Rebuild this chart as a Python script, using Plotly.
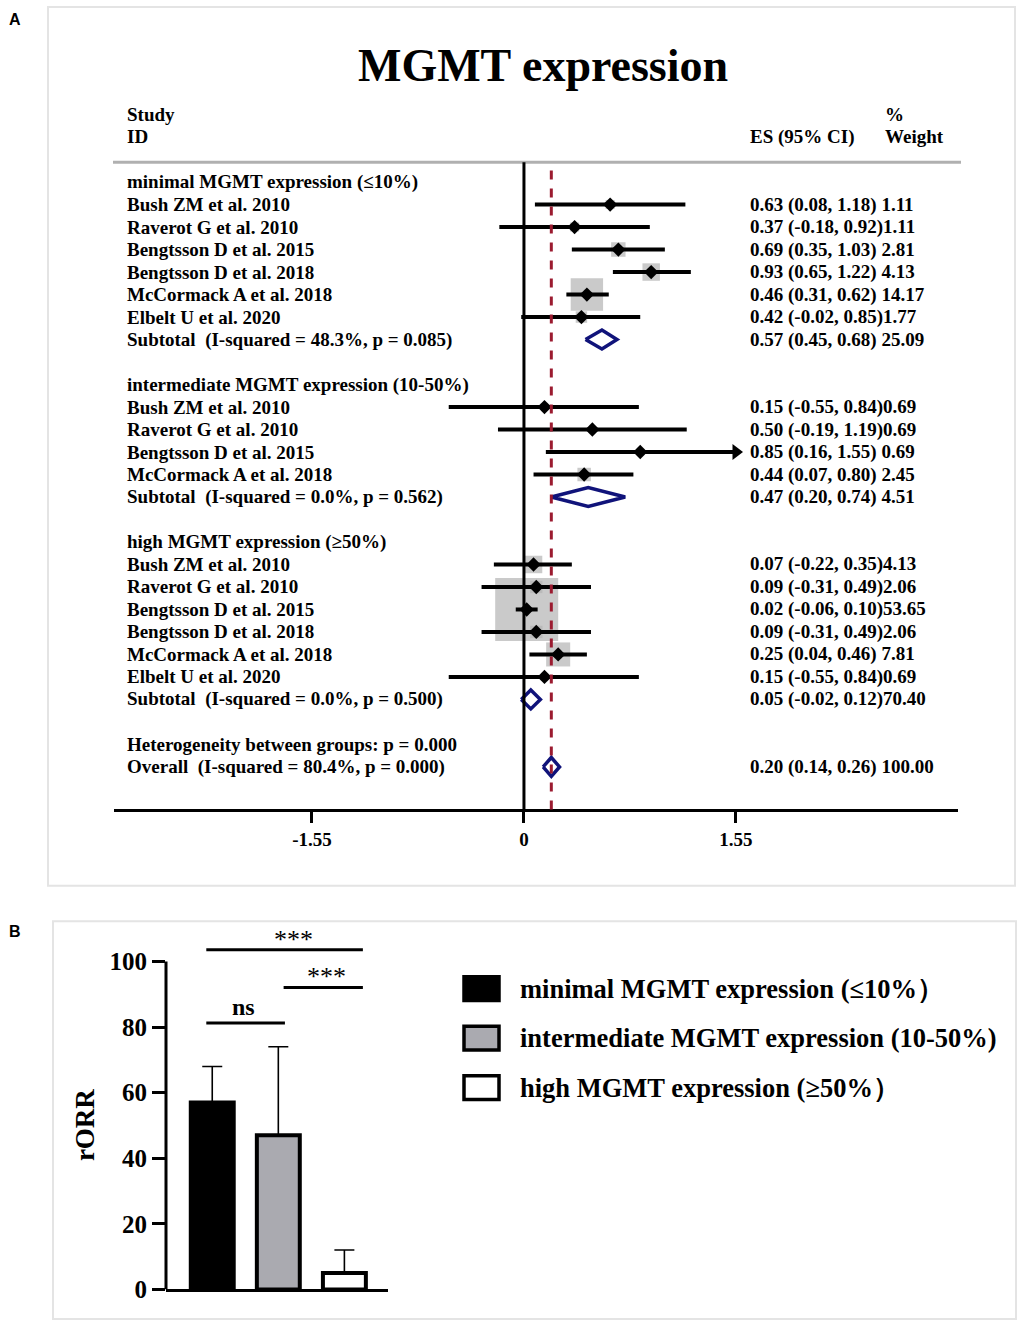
import plotly.graph_objects as go

W, H = 1024, 1339
def px(x): return x / W
def py(y): return 1 - y / H

FONT = "Liberation Serif"
FS = 19

# ---------------- Panel A data ----------------
group_titles = ["minimal MGMT expression (≤10%)",
                "intermediate MGMT expression (10-50%)",
                "high MGMT expression (≥50%)"]
min_studies = ["Bush ZM et al. 2010", "Raverot G et al. 2010", "Bengtsson D et al. 2015",
               "Bengtsson D et al. 2018", "McCormack A et al. 2018", "Elbelt U et al. 2020"]
min_es = [0.63, 0.37, 0.69, 0.93, 0.46, 0.42]
min_lo = [0.08, -0.18, 0.35, 0.65, 0.31, -0.02]
min_hi = [1.18, 0.92, 1.03, 1.22, 0.62, 0.85]
min_w = [1.11, 1.11, 2.81, 4.13, 14.17, 1.77]

int_studies = ["Bush ZM et al. 2010", "Raverot G et al. 2010", "Bengtsson D et al. 2015",
               "McCormack A et al. 2018"]
int_es = [0.15, 0.50, 0.85, 0.44]
int_lo = [-0.55, -0.19, 0.16, 0.07]
int_hi = [0.84, 1.19, 1.55, 0.80]
int_w = [0.69, 0.69, 0.69, 2.45]

high_studies = ["Bush ZM et al. 2010", "Raverot G et al. 2010", "Bengtsson D et al. 2015",
                "Bengtsson D et al. 2018", "McCormack A et al. 2018", "Elbelt U et al. 2020"]
high_es = [0.07, 0.09, 0.02, 0.09, 0.25, 0.15]
high_lo = [-0.22, -0.31, -0.06, -0.31, 0.04, -0.55]
high_hi = [0.35, 0.49, 0.10, 0.49, 0.46, 0.84]
high_w = [4.13, 2.06, 53.65, 2.06, 7.81, 0.69]

sub_es = [0.57, 0.47, 0.05]
sub_lo = [0.45, 0.20, -0.02]
sub_hi = [0.68, 0.74, 0.12]
sub_w = [25.09, 4.51, 70.40]
sub_i2 = ["48.3%", "0.0%", "0.0%"]
sub_p = ["0.085", "0.562", "0.500"]

overall_es, overall_lo, overall_hi, overall_w = 0.20, 0.14, 0.26, 100.00
overall_i2, overall_p = "80.4%", "0.000"
het_p = "0.000"

x_ticks = [-1.55, 0, 1.55]
x_ticktext = ["-1.55", "0", "1.55"]

# ---------------- Panel B data ----------------
bar_cats = ["minimal MGMT expression (≤10%）",
            "intermediate MGMT expression (10-50%)",
            "high MGMT expression (≥50%）"]
bar_vals = [57, 47, 5]
bar_err = [11, 27, 7]
bar_colors = ["#000000", "#aaaab0", "#ffffff"]
y_ticks_b = [0, 20, 40, 60, 80, 100]
sig_labels = ["***", "***", "ns"]
sig_x0 = [-0.09, 1.08, -0.09]
sig_x1 = [2.28, 2.28, 1.10]
sig_y = [103.6, 92.1, 81.3]
sig_text_x = [1.23, 1.73, 0.48]

# ---------------- Build forest rows ----------------
groups = [
    (min_studies, min_es, min_lo, min_hi, min_w),
    (int_studies, int_es, int_lo, int_hi, int_w),
    (high_studies, high_es, high_lo, high_hi, high_w),
]

def es_text(e, l, h, w):
    s = f"{e:.2f} ({l:.2f}, {h:.2f})"
    s = s.ljust(18)
    return (s + f"{w:.2f}").replace(" ", "\u00a0")

label_rows, label_texts = [], []
st_rows, st_es, st_lo, st_hi, st_w = [], [], [], [], []
rt_rows, rt_texts = [], []
sub_rows = []
row = 0
for gi, (names, es, lo, hi, w) in enumerate(groups):
    label_rows.append(row); label_texts.append(group_titles[gi]); row += 1
    for n, e, l, h, ww in zip(names, es, lo, hi, w):
        label_rows.append(row); label_texts.append(n)
        st_rows.append(row); st_es.append(e); st_lo.append(l); st_hi.append(h); st_w.append(ww)
        rt_rows.append(row); rt_texts.append(es_text(e, l, h, ww))
        row += 1
    label_rows.append(row)
    label_texts.append(f"Subtotal\u00a0 (I-squared = {sub_i2[gi]}, p = {sub_p[gi]})")
    rt_rows.append(row); rt_texts.append(es_text(sub_es[gi], sub_lo[gi], sub_hi[gi], sub_w[gi]))
    sub_rows.append(row)
    row += 2
label_rows.append(row); label_texts.append(f"Heterogeneity between groups: p = {het_p}"); row += 1
overall_row = row
label_rows.append(row); label_texts.append(f"Overall\u00a0 (I-squared = {overall_i2}, p = {overall_p})")
rt_rows.append(row); rt_texts.append(es_text(overall_es, overall_lo, overall_hi, overall_w))

fig = go.Figure()

# grey weight boxes
fig.add_trace(go.Scatter(
    x=st_es, y=st_rows, mode="markers",
    marker=dict(symbol="square", size=[8.6 * (w ** 0.5) for w in st_w], color="#b4b4b4", line=dict(width=0)),
    xaxis="x", yaxis="y", showlegend=False, hoverinfo="skip"))

# CI lines
cx, cy = [], []
for r, l, h in zip(st_rows, st_lo, st_hi):
    cx += [l, h, None]; cy += [r, r, None]
fig.add_trace(go.Scatter(x=cx, y=cy, mode="lines", line=dict(color="black", width=4),
                         xaxis="x", yaxis="y", showlegend=False, hoverinfo="skip"))

# arrows for CIs reaching axis label limit
ax_, ay_ = [], []
for r, h in zip(st_rows, st_hi):
    if h >= max(x_ticks):
        ax_.append(h); ay_.append(r)
fig.add_trace(go.Scatter(x=ax_, y=ay_, mode="markers",
                         marker=dict(symbol="triangle-right", size=14, color="black"),
                         xaxis="x", yaxis="y", showlegend=False, hoverinfo="skip"))

# point estimates
fig.add_trace(go.Scatter(x=st_es, y=st_rows, mode="markers",
                         marker=dict(symbol="diamond", size=11, color="black"),
                         xaxis="x", yaxis="y", showlegend=False, hoverinfo="skip"))

# pooled diamonds
hh = 0.42
for r, e, l, h in list(zip(sub_rows, sub_es, sub_lo, sub_hi)) + [(overall_row, overall_es, overall_lo, overall_hi)]:
    fig.add_trace(go.Scatter(x=[l, e, h, e, l], y=[r, r - hh, r, r + hh, r], mode="lines",
                             line=dict(color="#10137a", width=3.5),
                             xaxis="x", yaxis="y", showlegend=False, hoverinfo="skip"))

# ---------------- Panel B traces ----------------
fig.add_trace(go.Bar(
    x=[0, 1, 2], y=bar_vals, width=0.65,
    marker=dict(color=bar_colors, line=dict(color="black", width=4)),
    error_y=dict(type="data", symmetric=False, array=bar_err, arrayminus=[0, 0, 0],
                 color="black", thickness=1.6, width=10),
    xaxis="x2", yaxis="y2", showlegend=False, hoverinfo="skip"))

sx, sy = [], []
for a, b, yy in zip(sig_x0, sig_x1, sig_y):
    sx += [a, b, None]; sy += [yy, yy, None]
fig.add_trace(go.Scatter(x=sx, y=sy, mode="lines", line=dict(color="black", width=3),
                         xaxis="x2", yaxis="y2", showlegend=False, hoverinfo="skip", cliponaxis=False))

annotations = []
shapes = []

# forest texts
for r, t in zip(label_rows, label_texts):
    annotations.append(dict(x=px(125), xref="paper", y=r, yref="y", text=t, showarrow=False,
                            xanchor="left", yanchor="middle",
                            font=dict(family=FONT, size=FS, color="black", weight="bold")))
for r, t in zip(rt_rows, rt_texts):
    annotations.append(dict(x=px(748), xref="paper", y=r, yref="y", text=t, showarrow=False,
                            xanchor="left", yanchor="middle",
                            font=dict(family=FONT, size=FS, color="black", weight="bold")))

hdr_font = dict(family=FONT, size=FS, color="black", weight="bold")
for (x, y, t) in [(125, 116, "Study"), (125, 138, "ID"), (883, 116, "%"),
                  (748, 138, "ES (95% CI)"), (883, 138, "Weight")]:
    annotations.append(dict(x=px(x), y=py(y), xref="paper", yref="paper", text=t, showarrow=False,
                            xanchor="left", yanchor="middle", font=hdr_font))

annotations.append(dict(x=px(543), y=py(66), xref="paper", yref="paper", text="MGMT expression",
                        showarrow=False, xanchor="center", yanchor="middle",
                        font=dict(family=FONT, size=46, color="black", weight="bold")))

# panel labels
for (x, y, t) in [(15, 20, "A"), (15, 941, "B")]:
    annotations.append(dict(x=px(x), y=py(y), xref="paper", yref="paper", text=t, showarrow=False,
                            xanchor="center", yanchor="middle",
                            font=dict(family="Liberation Sans", size=16, color="black", weight="bold")))

# bar chart annotations
for lab, tx, yy in zip(sig_labels, sig_text_x, sig_y):
    if lab == "ns":
        annotations.append(dict(x=tx, y=yy, xref="x2", yref="y2", text=lab, showarrow=False,
                                yanchor="bottom", yshift=1,
                                font=dict(family=FONT, size=24, color="black", weight="bold")))
    else:
        annotations.append(dict(x=tx, y=yy, xref="x2", yref="y2",
                                text=lab, showarrow=False, yanchor="bottom", yshift=-6,
                                font=dict(family=FONT, size=26, color="black")))

annotations.append(dict(x=px(85), y=py(1137), xref="paper", yref="paper", text="rORR", showarrow=False,
                        textangle=-90, xanchor="center", yanchor="middle",
                        font=dict(family=FONT, size=27, color="black", weight="bold")))

# legend
leg_y = [999, 1049, 1099]
for i, (c, t) in enumerate(zip(bar_colors, bar_cats)):
    yc = leg_y[i]
    shapes.append(dict(type="rect", xref="paper", yref="paper", x0=px(464), x1=px(499),
                       y0=py(yc + 12), y1=py(yc - 12), fillcolor=c, line=dict(color="black", width=3.5)))
    annotations.append(dict(x=px(518), y=py(yc), xref="paper", yref="paper", text=t, showarrow=False,
                            xanchor="left", yanchor="middle",
                            font=dict(family=FONT, size=26.5, color="black", weight="bold")))

# frames
shapes.append(dict(type="rect", xref="paper", yref="paper", x0=px(48), x1=px(1015), y0=py(895), y1=py(7),
                   line=dict(color="#e4e4e4", width=2)))
shapes.append(dict(type="rect", xref="paper", yref="paper", x0=px(53), x1=px(1016), y0=py(1333), y1=py(931),
                   line=dict(color="#e4e4e4", width=2)))
# header separator
shapes.append(dict(type="line", xref="paper", yref="paper", x0=px(113), x1=px(961), y0=py(164), y1=py(164),
                   line=dict(color="#b0b0b0", width=3)))
# null line and overall effect line
shapes.append(dict(type="line", xref="x", yref="y domain", x0=0, x1=0, y0=0, y1=1,
                   line=dict(color="black", width=3)))
shapes.append(dict(type="line", xref="x", yref="y domain", x0=overall_es, x1=overall_es, y0=0, y1=1,
                   line=dict(color="#9b1b30", width=3, dash="dash")))
# bar chart y axis line (0-100)
shapes.append(dict(type="line", xref="x2 domain", yref="y2", x0=0, x1=0, y0=0, y1=max(y_ticks_b),
                   line=dict(color="black", width=3)))

fig.update_layout(
    width=W, height=H, margin=dict(l=0, r=0, t=0, b=0),
    paper_bgcolor="white", plot_bgcolor="rgba(0,0,0,0)",
    xaxis=dict(domain=[px(114), px(958)], range=[-2.997, 3.173], anchor="y",
               showline=True, linecolor="black", linewidth=3, ticks="outside", ticklen=11,
               tickwidth=3, tickcolor="black", tickvals=x_ticks, ticktext=x_ticktext,
               showgrid=False, zeroline=False, ticklabelstandoff=0,
               tickfont=dict(family=FONT, size=FS, color="black", weight="bold")),
    yaxis=dict(domain=[py(818), py(164)], range=[27.89, -0.88], anchor="x",
               showline=False, showgrid=False, zeroline=False, showticklabels=False, ticks=""),
    xaxis2=dict(domain=[px(166), px(388)], range=[-0.70, 2.66], anchor="y2",
                showline=True, linecolor="black", linewidth=3, ticks="", showticklabels=False,
                showgrid=False, zeroline=False),
    yaxis2=dict(domain=[py(1303), py(932)], range=[0, 112], anchor="x2",
                showline=False, showgrid=False, zeroline=False, ticks="outside", ticklen=13,
                tickwidth=3, tickcolor="black", tickvals=y_ticks_b,
                tickfont=dict(family=FONT, size=25, color="black", weight="bold")),
    annotations=annotations, shapes=shapes,
)

fig.write_html(
    "out.html",
    config={"displayModeBar": False, "staticPlot": True},
    post_script=("var gd=document.getElementById('{plot_id}');"
                 "gd.style.position='fixed';gd.style.top='0px';gd.style.left='0px';"
                 "document.body.style.margin='0';document.body.style.overflow='hidden';"
                 "document.documentElement.style.overflow='hidden';"
                 "document.documentElement.style.height='100%';document.body.style.height='100%';"),
)
